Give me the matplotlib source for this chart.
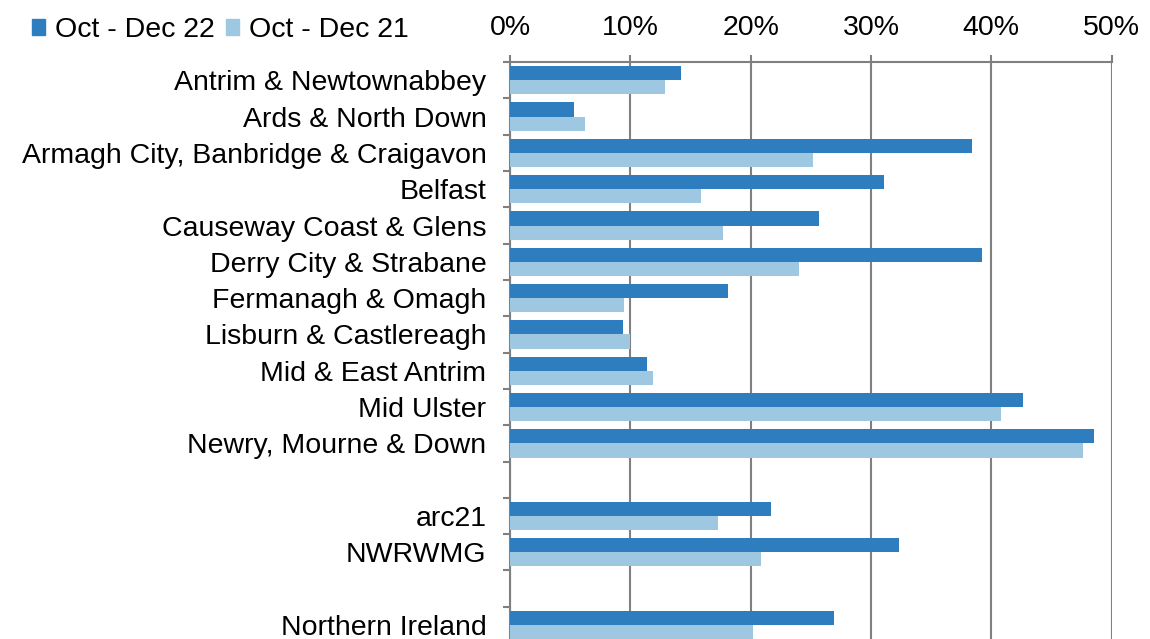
import numpy as np
import matplotlib.pyplot as plt
from matplotlib.patches import Patch
from matplotlib.ticker import FixedLocator, PercentFormatter

plt.rcParams['font.family'] = ['Liberation Sans', 'DejaVu Sans']

# Data (share, %) - blank labels are spacer rows
categories = ['Antrim & Newtownabbey', 'Ards & North Down',
              'Armagh City, Banbridge & Craigavon', 'Belfast',
              'Causeway Coast & Glens', 'Derry City & Strabane',
              'Fermanagh & Omagh', 'Lisburn & Castlereagh',
              'Mid & East Antrim', 'Mid Ulster', 'Newry, Mourne & Down',
              '', 'arc21', 'NWRWMG', '', 'Northern Ireland']
oct_dec_22 = [14.2, 5.3, 38.4, 31.1, 25.7, 39.2, 18.1, 9.4, 11.4, 42.6, 48.5,
              np.nan, 21.7, 32.3, np.nan, 26.9]
oct_dec_21 = [12.9, 6.2, 25.2, 15.9, 17.7, 24.0, 9.5, 10.0, 11.9, 40.8, 47.6,
              np.nan, 17.3, 20.9, np.nan, 20.2]
tick_vals = [0, 10, 20, 30, 40, 50]

dark = '#2e7dbe'
light = '#9ec8e2'
grey = '#808080'
fs = 20.5

fig = plt.figure(figsize=(11.5, 6.39), dpi=100)
ax = fig.add_axes([0.4435, -0.0063, 0.5231, 0.909])

y = np.arange(len(categories))
h = 0.39
ax.barh(y - h / 2, oct_dec_22, height=h, color=dark, label='Oct - Dec 22', zorder=3)
ax.barh(y + h / 2, oct_dec_21, height=h, color=light, label='Oct - Dec 21', zorder=3)

ax.set_xlim(0, 50)
ax.set_ylim(len(categories) - 0.5, -0.5)
ax.xaxis.tick_top()
ax.set_xticks(tick_vals)
ax.xaxis.set_major_formatter(PercentFormatter(decimals=0))
ax.tick_params(axis='x', length=5, color=grey, width=1.5, labelsize=fs, pad=10)
ax.grid(axis='x', color=grey, linewidth=1.5, zorder=0)

ax.set_yticks(y)
ax.set_yticklabels(categories)
ax.tick_params(axis='y', which='major', length=0, labelsize=fs, pad=17)
ax.yaxis.set_minor_locator(FixedLocator(np.arange(-0.5, len(categories), 1)))
ax.tick_params(axis='y', which='minor', length=5, color=grey, width=1.5)

for side in ['right', 'bottom']:
    ax.spines[side].set_visible(False)
for side in ['left', 'top']:
    ax.spines[side].set_color(grey)
    ax.spines[side].set_linewidth(1.5)

handles = [Patch(color=dark), Patch(color=light)]
fig.legend(handles, ['Oct - Dec 22', 'Oct - Dec 21'], loc='center left',
           bbox_to_anchor=(0.018, 1 - 30 / 639), ncol=2, frameon=False,
           fontsize=fs, handlelength=0.45, handleheight=0.45,
           handletextpad=0.35, columnspacing=0.4, borderaxespad=0)

fig.savefig('out.png', dpi=100)
